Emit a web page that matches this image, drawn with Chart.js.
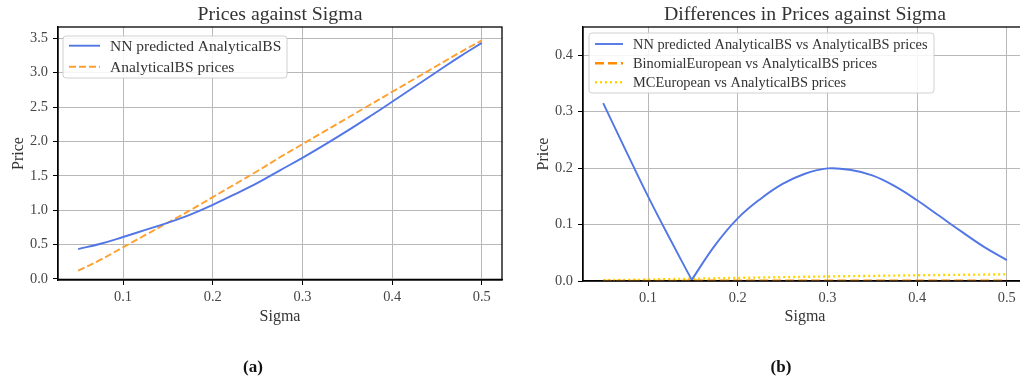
<!DOCTYPE html>
<html>
<head>
<meta charset="utf-8">
<script src="https://cdn.jsdelivr.net/npm/chart.js@4.4.0/dist/chart.umd.min.js"></script>
<style>
html, body { margin: 0; padding: 0; background: #fff; overflow: hidden; width: 1020px; height: 379px; }
#left { position: absolute; left: 0; top: 0; }
#right { position: absolute; left: 510px; top: 0; }
</style>
</head>
<body>
<canvas id="left" width="510" height="379"></canvas>
<canvas id="right" width="530" height="379"></canvas>
<script>
// values
const sigma     = [0.05, 0.075, 0.1, 0.125, 0.1487, 0.175, 0.2, 0.225, 0.25, 0.275, 0.3, 0.325, 0.35, 0.375, 0.4, 0.425, 0.45, 0.475, 0.5];
const bsPrices  = [0.12, 0.28, 0.46, 0.64, 0.81, 1.00, 1.19, 1.38, 1.57, 1.77, 1.96, 2.15, 2.34, 2.53, 2.72, 2.91, 3.10, 3.29, 3.47];
const nnPrices  = [0.435, 0.512, 0.610, 0.713, 0.812, 0.936, 1.079, 1.235, 1.398, 1.580, 1.761, 1.953, 2.153, 2.362, 2.577, 2.795, 3.013, 3.230, 3.433];
const nnDiff    = [0.315, 0.232, 0.150, 0.073, 0.002, 0.064, 0.111, 0.145, 0.172, 0.190, 0.1995, 0.197, 0.187, 0.168, 0.143, 0.115, 0.087, 0.060, 0.037];
const binomDiff = [0.0002, 0.0003, 0.0004, 0.0004, 0.0005, 0.0005, 0.0006, 0.0006, 0.0006, 0.0007, 0.0007, 0.0007, 0.0007, 0.0008, 0.0008, 0.0008, 0.0008, 0.0008, 0.0008];
const mcDiff    = [0.0015, 0.002, 0.0027, 0.0034, 0.004, 0.0048, 0.0055, 0.0062, 0.0068, 0.0074, 0.008, 0.0086, 0.0091, 0.0096, 0.0101, 0.0106, 0.011, 0.0114, 0.0118];

const xTicks      = [0.1, 0.2, 0.3, 0.4, 0.5];
const yTicksLeft  = [0.0, 0.5, 1.0, 1.5, 2.0, 2.5, 3.0, 3.5];
const yTicksRight = [0.0, 0.1, 0.2, 0.3, 0.4];

const serif = '"Liberation Serif", "Times New Roman", serif';
const BLUE = '#5276e6';
const ORANGE_L = '#ff9f2e';
const ORANGE_R = '#ff8c00';
const YELLOW = '#ffd700';

function pts(ys) {
    return sigma.map((s, i) => ({ x: s, y: ys[i] }));
}

function axes(yTicks, yMin, yMax, yWidth, xHeight) {
    const grid = { color: '#b8b8b8', lineWidth: 1, tickColor: '#000', tickLength: 5, tickWidth: 1 };
    const tickFont = { family: serif, size: 14.4 };
    return {
        x: {
            type: 'linear', min: 0.0275, max: 0.5225,
            afterBuildTicks: s => { s.ticks = xTicks.map(v => ({ value: v })); },
            afterFit: s => { s.height = xHeight; },
            grid: grid,
            border: { color: '#000', width: 1.3 },
            ticks: { font: tickFont, color: '#444', padding: 4, maxRotation: 0, autoSkip: false,
                     callback: v => v.toFixed(1) }
        },
        y: {
            type: 'linear', min: yMin, max: yMax,
            afterBuildTicks: s => { s.ticks = yTicks.map(v => ({ value: v })); },
            afterFit: s => { s.width = yWidth; },
            grid: grid,
            border: { color: '#000', width: 1.3 },
            ticks: { font: tickFont, color: '#444', padding: 5, autoSkip: false,
                     callback: v => v.toFixed(1) }
        }
    };
}

function roundRect(ctx, x, y, w, h, r) {
    ctx.beginPath();
    ctx.moveTo(x + r, y);
    ctx.arcTo(x + w, y, x + w, y + h, r);
    ctx.arcTo(x + w, y + h, x, y + h, r);
    ctx.arcTo(x, y + h, x, y, r);
    ctx.arcTo(x, y, x + w, y, r);
    ctx.closePath();
}

// frame, legend, titles, captions
function makeDecor(cfg) {
    return {
        id: 'decor',
        afterDatasetsDraw(chart) {
            const { ctx, chartArea: a } = chart;
            ctx.save();
            ctx.strokeStyle = '#000';
            ctx.lineWidth = 1.3;
            ctx.strokeRect(a.left, a.top, a.right - a.left, a.bottom - a.top);

            const L = cfg.legend;
            roundRect(ctx, L.x, L.y, L.w, L.h, 3);
            ctx.fillStyle = 'rgba(255,255,255,0.85)';
            ctx.fill();
            ctx.strokeStyle = '#d0d0d0';
            ctx.lineWidth = 1;
            ctx.stroke();

            ctx.font = L.size + 'px ' + serif;
            ctx.textBaseline = 'middle';
            ctx.textAlign = 'left';
            L.items.forEach((it, i) => {
                const y = L.rows[i];
                ctx.beginPath();
                ctx.setLineDash(it.dash || []);
                ctx.strokeStyle = it.color;
                ctx.lineWidth = it.width;
                ctx.moveTo(L.x0, y);
                ctx.lineTo(L.x1, y);
                ctx.stroke();
                ctx.setLineDash([]);
                ctx.fillStyle = '#333';
                ctx.fillText(it.label, L.tx, y + 1);
            });
            ctx.restore();
        },
        afterDraw(chart) {
            const { ctx, chartArea: a } = chart;
            const cx = (a.left + a.right) / 2;
            ctx.save();
            ctx.fillStyle = '#333';
            ctx.textAlign = 'center';
            ctx.textBaseline = 'alphabetic';
            ctx.font = '19.8px ' + serif;
            ctx.fillText(cfg.title, cx, 19.5);
            ctx.font = '16px ' + serif;
            ctx.fillText('Sigma', cx, 320.5);
            ctx.save();
            ctx.translate(cfg.yLabelX, (a.top + a.bottom) / 2);
            ctx.rotate(-Math.PI / 2);
            ctx.fillText('Price', 0, 0);
            ctx.restore();
            ctx.fillStyle = '#111';
            ctx.font = 'bold 17px ' + serif;
            ctx.textBaseline = 'middle';
            ctx.fillText(cfg.caption, cfg.captionX, 368);
            ctx.restore();
        }
    };
}

const vIdx = nnDiff.indexOf(Math.min(...nnDiff));

new Chart(document.getElementById('left'), {
    type: 'line',
    data: {
        datasets: [
            { label: 'NN predicted AnalyticalBS', data: pts(nnPrices), borderColor: BLUE, borderWidth: 1.9,
              pointRadius: 0, tension: 0.4, fill: false },
            { label: 'AnalyticalBS prices', data: pts(bsPrices), borderColor: ORANGE_L, borderWidth: 1.9,
              borderDash: [7, 3], pointRadius: 0, tension: 0.4, fill: false }
        ]
    },
    options: {
        responsive: false, animation: false,
        layout: { padding: { left: 0, right: 8, top: 27, bottom: 0 } },
        plugins: { legend: { display: false }, title: { display: false }, tooltip: { enabled: false } },
        scales: axes(yTicksLeft, -0.015, 3.664, 58, 99)
    },
    plugins: [makeDecor({
        title: 'Prices against Sigma', yLabelX: 23, caption: '(a)', captionX: 253,
        legend: { x: 63, y: 36, w: 224, h: 42, size: 15.5, rows: [45.7, 66.7], x0: 69, x1: 100, tx: 110,
                  items: [
                      { label: 'NN predicted AnalyticalBS', color: BLUE, width: 1.9 },
                      { label: 'AnalyticalBS prices', color: ORANGE_L, width: 1.9, dash: [7, 3] }
                  ] }
    })]
});

new Chart(document.getElementById('right'), {
    type: 'line',
    data: {
        datasets: [
            { label: 'NN predicted AnalyticalBS vs AnalyticalBS prices', data: pts(nnDiff).slice(0, vIdx + 1),
              borderColor: BLUE, borderWidth: 1.9, pointRadius: 0, tension: 0.4, fill: false },
            { label: 'NN predicted AnalyticalBS vs AnalyticalBS prices', data: pts(nnDiff).slice(vIdx),
              borderColor: BLUE, borderWidth: 1.9, pointRadius: 0, tension: 0.4, fill: false },
            { label: 'BinomialEuropean vs AnalyticalBS prices', data: pts(binomDiff), borderColor: ORANGE_R,
              borderWidth: 2.2, borderDash: [9, 4], pointRadius: 0, fill: false },
            { label: 'MCEuropean vs AnalyticalBS prices', data: pts(mcDiff), borderColor: YELLOW,
              borderWidth: 2.4, borderDash: [2, 3], pointRadius: 0, fill: false }
        ]
    },
    options: {
        responsive: false, animation: false,
        layout: { padding: { left: 0, right: 13, top: 27, bottom: 0 } },
        plugins: { legend: { display: false }, title: { display: false }, tooltip: { enabled: false } },
        scales: axes(yTicksRight, 0, 0.45, 73, 98)
    },
    plugins: [makeDecor({
        title: 'Differences in Prices against Sigma', yLabelX: 38, caption: '(b)', captionX: 271,
        legend: { x: 79, y: 33, w: 345, h: 60, size: 14.4, rows: [44, 63.3, 82.3], x0: 85, x1: 113, tx: 123,
                  items: [
                      { label: 'NN predicted AnalyticalBS vs AnalyticalBS prices', color: BLUE, width: 1.9 },
                      { label: 'BinomialEuropean vs AnalyticalBS prices', color: ORANGE_R, width: 2.4, dash: [9, 4] },
                      { label: 'MCEuropean vs AnalyticalBS prices', color: YELLOW, width: 2.4, dash: [2, 3] }
                  ] }
    })]
});
</script>
</body>
</html>
